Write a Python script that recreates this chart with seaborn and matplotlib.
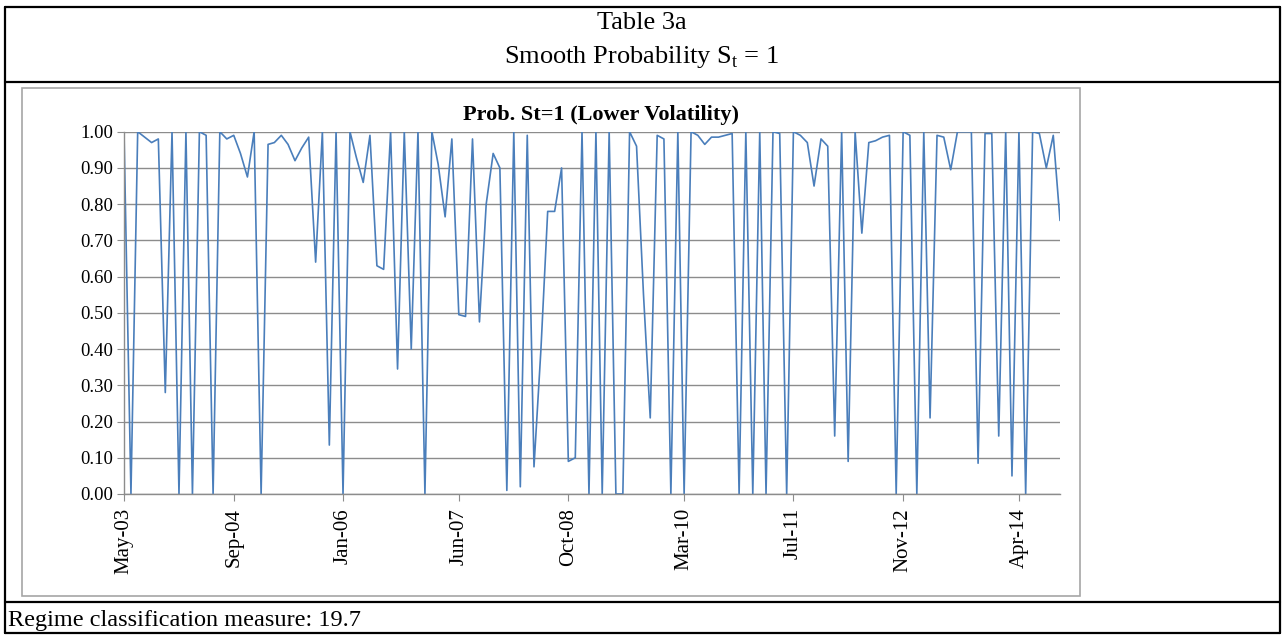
import matplotlib
matplotlib.use("Agg")
import matplotlib.pyplot as plt
import matplotlib.dates as mdates
from matplotlib.lines import Line2D
from matplotlib.patches import Rectangle
import numpy as np
import pandas as pd
import seaborn as sns

# smoothed probability of regime St=1, monthly from May-03
prob_st1 = [
    1.00, 0.00, 1.00, 0.985, 0.97, 0.98, 0.28, 1.00, 0.00, 1.00,
    0.00, 1.00, 0.99, 0.00, 1.00, 0.98, 0.99, 0.94, 0.875, 1.00,
    0.00, 0.965, 0.97, 0.99, 0.965, 0.92, 0.955, 0.985, 0.64, 1.00,
    0.135, 1.00, 0.00, 1.00, 0.93, 0.86, 0.99, 0.63, 0.62, 1.00,
    0.345, 1.00, 0.40, 1.00, 0.00, 1.00, 0.91, 0.765, 0.98, 0.495,
    0.49, 0.98, 0.475, 0.80, 0.94, 0.90, 0.01, 1.00, 0.02, 0.99,
    0.075, 0.40, 0.78, 0.78, 0.90, 0.09, 0.10, 1.00, 0.00, 1.00,
    0.00, 1.00, 0.00, 0.00, 1.00, 0.96, 0.55, 0.21, 0.99, 0.98,
    0.00, 1.00, 0.00, 1.00, 0.99, 0.965, 0.985, 0.985, 0.99, 0.995,
    0.00, 1.00, 0.00, 1.00, 0.00, 1.00, 0.995, 0.00, 1.00, 0.99,
    0.97, 0.85, 0.98, 0.96, 0.16, 1.00, 0.09, 1.00, 0.72, 0.97,
    0.975, 0.985, 0.99, 0.00, 1.00, 0.99, 0.00, 1.00, 0.21, 0.99,
    0.985, 0.895, 1.00, 1.00, 1.00, 0.085, 0.995, 0.995, 0.16, 1.00,
    0.05, 1.00, 0.00, 1.00, 0.995, 0.90, 0.99, 0.755,
]
start_month = "2003-05-01"
tick_labels = ["May-03", "Sep-04", "Jan-06", "Jun-07", "Oct-08",
               "Mar-10", "Jul-11", "Nov-12", "Apr-14"]
y_ticks = [0.0, 0.1, 0.2, 0.3, 0.4, 0.5, 0.6, 0.7, 0.8, 0.9, 1.0]

header_1 = "Table 3a"
header_2 = "Smooth Probability S$_\\mathregular{t}$ = 1"
chart_title = "Prob. St=1 (Lower Volatility)"
footer = "Regime classification measure: 19.7"

df = pd.DataFrame({
    "date": pd.date_range(start_month, periods=len(prob_st1), freq="MS"),
    "prob": prob_st1,
})
tick_dates = pd.to_datetime(tick_labels, format="%b-%y")

sns.set_style("white")
plt.rcParams["font.family"] = ["Liberation Serif", "DejaVu Serif"]
plt.rcParams["mathtext.fontset"] = "custom"
plt.rcParams["mathtext.rm"] = "Liberation Serif"
plt.rcParams["text.color"] = "black"
plt.rcParams["xtick.color"] = "black"
plt.rcParams["ytick.color"] = "black"

W, H = 1283, 635
fig = plt.figure(figsize=(W / 100, H / 100), dpi=100)

# plot area in pixels
px0, px1, py0, py1 = 124, 1060, 131.7, 494
ax = fig.add_axes([px0 / W, 1 - py1 / H, (px1 - px0) / W, (py1 - py0) / H])

sns.lineplot(data=df, x="date", y="prob", ax=ax, color="#4a7ebb",
             linewidth=1.2, legend=False)

ax.set_xlim(df["date"].iloc[0], df["date"].iloc[-1])
ax.set_ylim(0, 1)
ax.set_yticks(y_ticks)
ax.set_yticklabels(["%.2f" % v for v in y_ticks])
ax.set_xticks(tick_dates)
ax.xaxis.set_major_formatter(mdates.DateFormatter("%b-%y"))
ax.grid(axis="y", color="#8c8c8c", linewidth=1.0)
ax.set_axisbelow(True)
for s in ["top", "right"]:
    ax.spines[s].set_visible(False)
for s in ["left", "bottom"]:
    ax.spines[s].set_color("#8c8c8c")
    ax.spines[s].set_linewidth(1.0)
ax.tick_params(axis="x", direction="out", length=5, color="#8c8c8c",
               labelcolor="black", labelsize=15, rotation=90, pad=5, bottom=True)
ax.tick_params(axis="y", direction="out", length=5, color="#8c8c8c",
               labelcolor="black", labelsize=13.5, pad=3, left=True)
ax.set_xlabel("")
ax.set_ylabel("")

fig.text(601 / W, 1 - 115 / H, chart_title, ha="center", va="center",
         fontsize=16, fontweight="bold", color="black")

# chart area frame
fig.add_artist(Rectangle((22 / W, 1 - 596 / H), (1080 - 22) / W, (596 - 88) / H,
                         fill=False, edgecolor="#a6a6a6", linewidth=1.2,
                         transform=fig.transFigure))

# table borders
def hline(y, x0=5, x1=1280):
    fig.add_artist(Line2D([x0 / W, x1 / W], [1 - y / H, 1 - y / H],
                          transform=fig.transFigure, color="black", linewidth=1.6))

def vline(x, y0=7, y1=633):
    fig.add_artist(Line2D([x / W, x / W], [1 - y0 / H, 1 - y1 / H],
                          transform=fig.transFigure, color="black", linewidth=1.6))

for y in [7, 82, 602, 633]:
    hline(y)
vline(5)
vline(1280)

fig.text(642 / W, 1 - 29 / H, header_1, ha="center", va="baseline", fontsize=19)
fig.text(642 / W, 1 - 63 / H, header_2, ha="center", va="baseline", fontsize=19)
fig.text(8 / W, 1 - 626 / H, footer, ha="left", va="baseline", fontsize=17.5)

fig.savefig("out.png", dpi=100)
